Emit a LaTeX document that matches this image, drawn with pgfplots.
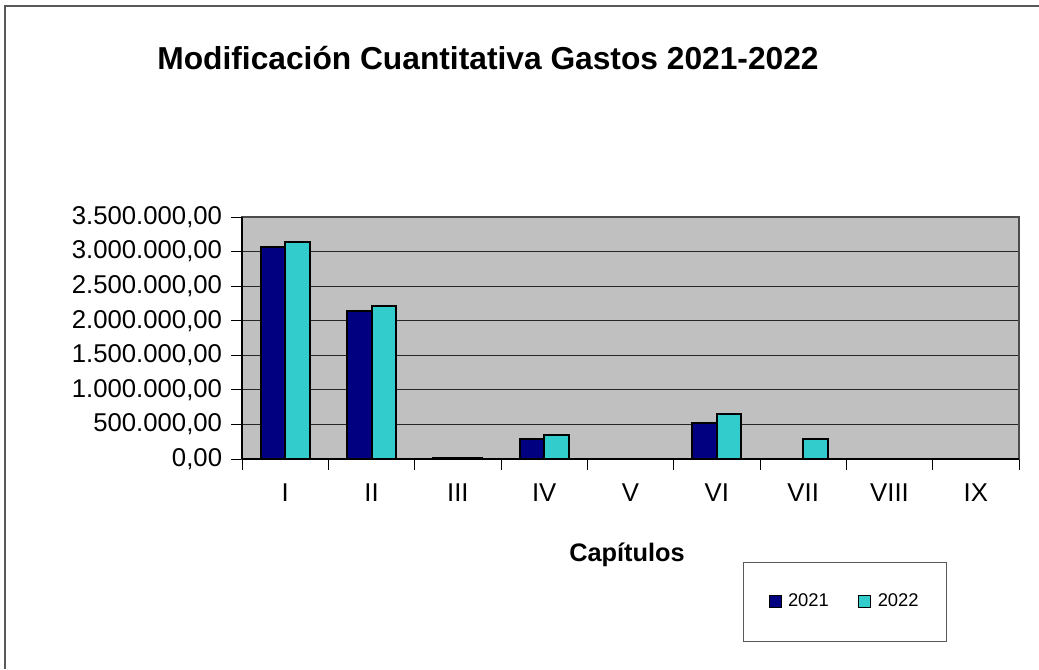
\documentclass[border=0pt]{standalone}
\usepackage{pgfplots}
\pgfplotsset{compat=1.18}
\usepackage{fontspec}
\setmainfont{Liberation Sans}
\definecolor{c2021}{RGB}{0,0,128}
\definecolor{c2022}{RGB}{51,204,204}
\definecolor{plotbg}{RGB}{192,192,192}
\begin{document}
\begin{tikzpicture}[x=0.75pt,y=0.75pt]
\useasboundingbox (0,0) rectangle (1039,669);
\draw[gray!70!black, line width=1.2pt] (5,0) -- (5,663) -- (1039,663);
\node[font=\fontsize{23.8}{28}\selectfont\bfseries] at (488,611) {Modificación Cuantitativa Gastos 2021-2022};
\node[font=\fontsize{19}{22}\selectfont\bfseries] at (627,114) {Capítulos};
\begin{axis}[
  at={(181.5pt,157.5pt)}, anchor=south west,
  scale only axis, width=582.75pt, height=181.5pt,
  ybar=0pt, bar width=0.284,
  xmin=-0.5, xmax=8.5, ymin=0, ymax=3500000,
  scaled y ticks=false,
  axis background/.style={fill=plotbg},
  axis line style={draw=gray!60!black, line width=0.8pt},
  xtick={0,...,8}, xticklabels={I,II,III,IV,V,VI,VII,VIII,IX},
  minor xtick={-0.5,0.5,...,8.5},
  major x tick style={draw=none},
  minor tick length=8.25pt,
  minor x tick style={black, line width=0.6pt},
  xtick pos=bottom, ytick pos=left, tick align=outside,
  ytick={0,500000,...,3500000},
  yticklabels={{0,00},{500.000,00},{1.000.000,00},{1.500.000,00},{2.000.000,00},{2.500.000,00},{3.000.000,00},{3.500.000,00}},
  major tick length=8.25pt,
  y tick style={black, line width=0.6pt},
  ymajorgrids, major grid style={black!85, line width=0.8pt},
  ticklabel style={font=\fontsize{19.3}{22}\selectfont},
  yticklabel style={anchor=east, inner sep=0pt, xshift=-6.5pt},
  xticklabel style={anchor=north, inner sep=0pt, yshift=-10pt},
  legend columns=2,
  legend style={at={(0.776,-0.589)}, anchor=center, draw=gray!70!black, line width=0.6pt,
    font=\fontsize{13.8}{16}\selectfont, inner xsep=19pt, inner ysep=22pt,
    /tikz/every odd column/.append style={column sep=3pt},
    /tikz/every even column/.append style={column sep=20pt}},
  legend image code/.code={\draw[#1, line width=0.6pt] (0pt,-4.5pt) rectangle (9pt,4.5pt);},
  every axis plot/.append style={draw=black, line width=1.5pt},
  after end axis/.code={
    \draw[black, line width=0.8pt] (rel axis cs:0,0) -- (rel axis cs:1,0);
    \draw[black, line width=0.8pt] (rel axis cs:0,0) -- (rel axis cs:0,1);
  },
]
\addplot[fill=c2021] coordinates {(0,3071000) (1,2147000) (2,20000) (3,283000) (4,1) (5,520000) (6,1) (7,1) (8,1)};
\addplot[fill=c2022] coordinates {(0,3134000) (1,2219000) (2,20000) (3,347000) (4,1) (5,644000) (6,289000) (7,1) (8,1)};
\legend{2021,2022}
\end{axis}
\end{tikzpicture}
\end{document}
